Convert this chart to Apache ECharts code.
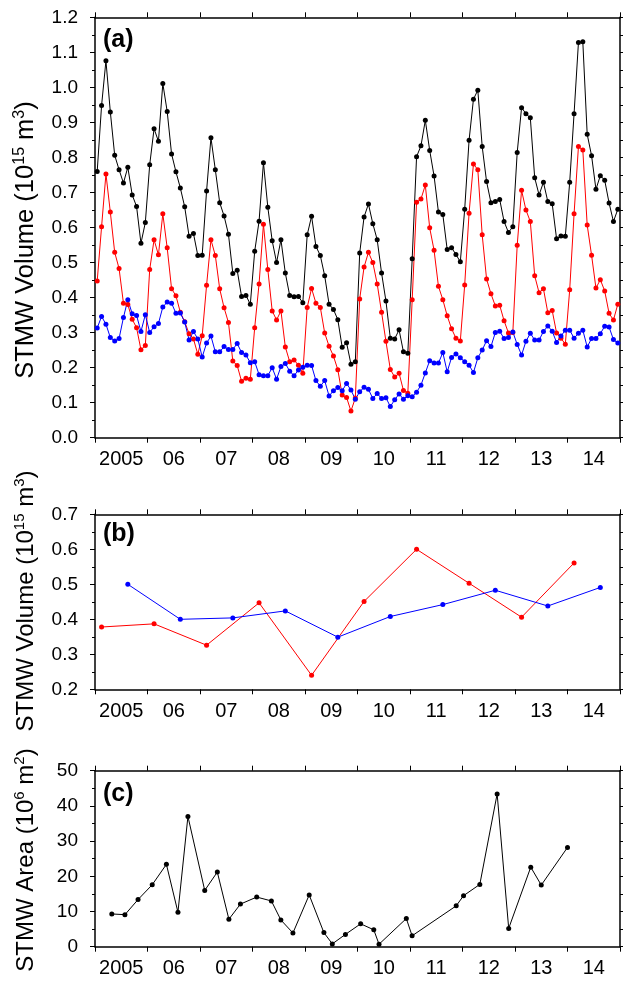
<!DOCTYPE html>
<html>
<head>
<meta charset="utf-8">
<script src="https://cdn.jsdelivr.net/npm/echarts@6/dist/echarts.min.js"></script>
<style>
html,body{margin:0;padding:0;background:#fff;}
#chart{width:623px;height:981px;}
</style>
</head>
<body>
<div id="chart"></div>
<script>
// ---------------- data ----------------
const yearLabels = ['2005','06','07','08','09','10','11','12','13','14'];

// Panel (a): monthly STMW volume (10^15 m^3), Jan 2005 - Dec 2014
const monthlyBlack = [
0.760,0.948,1.076,0.930,0.806,0.765,0.727,0.772,0.693,0.660,0.555,0.614,
0.779,0.882,0.846,1.011,0.931,0.810,0.759,0.713,0.659,0.575,0.583,0.520,
0.521,0.704,0.856,0.765,0.671,0.633,0.581,0.469,0.478,0.403,0.406,0.381,
0.532,0.618,0.785,0.658,0.562,0.500,0.565,0.470,0.406,0.402,0.403,0.385,
0.579,0.632,0.546,0.520,0.462,0.381,0.366,0.337,0.258,0.271,0.210,0.217,
0.527,0.630,0.667,0.611,0.565,0.470,0.390,0.284,0.282,0.308,0.245,0.241,
0.511,0.802,0.833,0.906,0.820,0.747,0.644,0.637,0.537,0.542,0.523,0.502,
0.652,0.849,0.966,0.992,0.831,0.731,0.671,0.674,0.680,0.617,0.586,0.602,
0.814,0.942,0.925,0.913,0.742,0.693,0.729,0.674,0.668,0.568,0.576,0.575,
0.729,0.925,1.128,1.130,0.866,0.805,0.709,0.748,0.735,0.670,0.617,0.652
];
const monthlyRed = [
0.447,0.602,0.753,0.644,0.529,0.483,0.384,0.380,0.338,0.314,0.251,0.263,
0.480,0.565,0.522,0.639,0.542,0.425,0.405,0.358,0.331,0.297,0.282,0.238,
0.291,0.435,0.565,0.520,0.425,0.371,0.329,0.219,0.206,0.161,0.170,0.167,
0.314,0.439,0.609,0.480,0.362,0.336,0.362,0.259,0.217,0.222,0.207,0.184,
0.372,0.426,0.384,0.372,0.299,0.261,0.233,0.194,0.122,0.115,0.076,0.113,
0.396,0.487,0.529,0.500,0.439,0.358,0.275,0.195,0.173,0.184,0.135,0.127,
0.394,0.672,0.681,0.721,0.599,0.535,0.432,0.394,0.348,0.311,0.284,0.276,
0.436,0.641,0.781,0.765,0.579,0.453,0.411,0.376,0.378,0.334,0.299,0.300,
0.549,0.706,0.650,0.617,0.462,0.414,0.425,0.357,0.363,0.299,0.284,0.267,
0.422,0.639,0.831,0.821,0.607,0.521,0.427,0.451,0.419,0.355,0.336,0.381
];
const monthlyBlue = [
0.313,0.346,0.324,0.286,0.276,0.283,0.343,0.394,0.354,0.349,0.303,0.351,
0.300,0.317,0.326,0.373,0.387,0.384,0.355,0.356,0.330,0.279,0.303,0.282,
0.230,0.270,0.290,0.245,0.245,0.260,0.252,0.252,0.269,0.243,0.236,0.214,
0.217,0.180,0.177,0.177,0.200,0.167,0.203,0.212,0.190,0.177,0.193,0.201,
0.207,0.206,0.163,0.147,0.163,0.119,0.134,0.143,0.134,0.155,0.136,0.110,
0.131,0.144,0.138,0.112,0.126,0.112,0.114,0.089,0.108,0.125,0.110,0.120,
0.117,0.130,0.150,0.185,0.220,0.213,0.213,0.243,0.188,0.229,0.239,0.228,
0.217,0.207,0.186,0.228,0.250,0.277,0.260,0.300,0.304,0.283,0.286,0.302,
0.266,0.236,0.275,0.298,0.279,0.279,0.303,0.319,0.304,0.272,0.290,0.307,
0.307,0.284,0.298,0.307,0.259,0.283,0.283,0.297,0.318,0.316,0.280,0.270
];

// Panel (b): annual values
const winterTimes = [2005.125,2006.125,2007.125,2008.125,2009.125,2010.125,2011.125,2012.125,2013.125,2014.125];
const winterRed   = [0.378,0.387,0.326,0.447,0.240,0.451,0.600,0.503,0.406,0.561];
const summerTimes = [2005.625,2006.625,2007.625,2008.625,2009.625,2010.625,2011.625,2012.625,2013.625,2014.625];
const summerBlue  = [0.500,0.400,0.404,0.424,0.349,0.408,0.442,0.483,0.438,0.491];

// Panel (c): STMW area (10^6 m^2)
const areaTimes = [2005.32,2005.57,2005.82,2006.09,2006.36,2006.58,2006.77,2007.09,2007.33,2007.55,2007.77,
  2008.08,2008.36,2008.54,2008.77,2009.08,2009.36,2009.52,2009.77,2010.06,2010.31,2010.41,2010.93,2011.04,
  2011.88,2012.02,2012.33,2012.66,2012.88,2013.30,2013.50,2014.00];
const areaValues = [9.3,9.1,13.4,17.6,23.4,9.8,37.0,16.0,21.2,7.8,12.1,
  14.1,13.0,7.6,3.9,14.7,4.0,0.8,3.5,6.5,4.8,0.7,8.0,3.1,
  11.6,14.5,17.7,43.4,5.2,22.6,17.5,28.2];

// ---------------- chart ----------------
const FONT = 'Liberation Sans, Arial, Helvetica, sans-serif';
const monthTime = i => 2005 + (i + 0.5) / 12;
const pairs = (xs, ys) => ys.map((v, i) => [xs[i], v]);
const monthly = arr => arr.map((v, i) => [monthTime(i), v]);

const grids = [
  {left: 95, width: 525, top: 17.3, height: 420.4},
  {left: 95, width: 525, top: 514.3, height: 175},
  {left: 95, width: 525, top: 770.7, height: 176}
];
const yCfg = [
  {min: 0, max: 1.2, interval: 0.1, fmt: v => v.toFixed(1)},
  {min: 0.2, max: 0.7, interval: 0.1, fmt: v => v.toFixed(1)},
  {min: 0, max: 50, interval: 10, fmt: v => String(Math.round(v))}
];
const lineSt = {color: '#000', width: 1.5};
const xAxes = [], yAxes = [];
grids.forEach((g, gi) => {
  ['bottom', 'top'].forEach(pos => xAxes.push({
    type: 'value', gridIndex: gi, position: pos, min: 2005, max: 2015, interval: 1,
    axisLine: {show: true, onZero: false, lineStyle: lineSt},
    axisTick: {show: true, inside: false, length: 5, lineStyle: {color: '#000', width: 1}},
    axisLabel: {show: false}, splitLine: {show: false}
  }));
  xAxes.push({
    type: 'category', gridIndex: gi, position: 'bottom', data: yearLabels, boundaryGap: true,
    axisLine: {show: false}, axisTick: {show: false}, splitLine: {show: false},
    axisLabel: {show: true, margin: 12, color: '#000', fontSize: 20, fontFamily: FONT, interval: 0}
  });
  const c = yCfg[gi];
  ['left', 'right'].forEach(pos => yAxes.push({
    type: 'value', gridIndex: gi, position: pos, min: c.min, max: c.max, interval: c.interval,
    axisLine: {show: true, onZero: false, lineStyle: lineSt},
    axisTick: {show: true, inside: false, length: 5, lineStyle: {color: '#000', width: 1}},
    minorTick: {show: true, splitNumber: 2, length: 3, lineStyle: {color: '#000', width: 1}},
    axisLabel: {show: pos === 'left', margin: 17, color: '#000', fontSize: 19, fontFamily: FONT, formatter: c.fmt},
    splitLine: {show: false}, minorSplitLine: {show: false}
  }));
});

function ser(data, color, gi, size) {
  return {
    type: 'line', data: data, xAxisIndex: gi * 3, yAxisIndex: gi * 2,
    symbol: 'circle', symbolSize: size, showSymbol: true, showAllSymbol: true,
    itemStyle: {color: color}, lineStyle: {color: color, width: 1},
    emphasis: {disabled: true}, animation: false
  };
}

function yTitle(x, y, fs, main, sup, unit, sup2) {
  const ss = Math.round(fs * 0.62);
  return {
    type: 'text', x: x, y: y, rotation: Math.PI / 2,
    style: {
      text: '{t|' + main + '}{s|' + sup + '}{t|' + unit + '}{s|' + sup2 + '}{t|)}',
      align: 'center', verticalAlign: 'middle',
      rich: {
        t: {fontSize: fs, fontFamily: FONT, fill: '#000', color: '#000', lineHeight: fs + 4},
        s: {fontSize: ss, fontFamily: FONT, fill: '#000', color: '#000', lineHeight: ss - 1, verticalAlign: 'top'}
      }
    }
  };
}
function panelLabel(x, y, txt) {
  return {type: 'text', x: x, y: y,
    style: {text: txt, fontSize: 25, fontWeight: 'bold', fontFamily: FONT, fill: '#000', align: 'left', verticalAlign: 'middle'}};
}

const option = {
  animation: false,
  backgroundColor: '#fff',
  grid: grids,
  xAxis: xAxes,
  yAxis: yAxes,
  series: [
    ser(monthly(monthlyBlack), '#000000', 0, 5),
    ser(monthly(monthlyRed), '#ff0000', 0, 5),
    ser(monthly(monthlyBlue), '#0000ff', 0, 5),
    ser(pairs(winterTimes, winterRed), '#ff0000', 1, 5),
    ser(pairs(summerTimes, summerBlue), '#0000ff', 1, 5),
    ser(pairs(areaTimes, areaValues), '#000000', 2, 5)
  ],
  graphic: [
    yTitle(26, 240, 25.5, 'STMW Volume (10', '15', ' m', '3'),
    yTitle(26, 601, 24, 'STMW Volume (10', '15', ' m', '3'),
    yTitle(26, 860, 24, 'STMW Area (10', '6', ' m', '2'),
    panelLabel(103, 40, '(a)'),
    panelLabel(103, 534, '(b)'),
    panelLabel(103, 794, '(c)')
  ]
};
const chart = echarts.init(document.getElementById('chart'), null, {renderer: 'canvas'});
chart.setOption(option);
</script>
</body>
</html>
